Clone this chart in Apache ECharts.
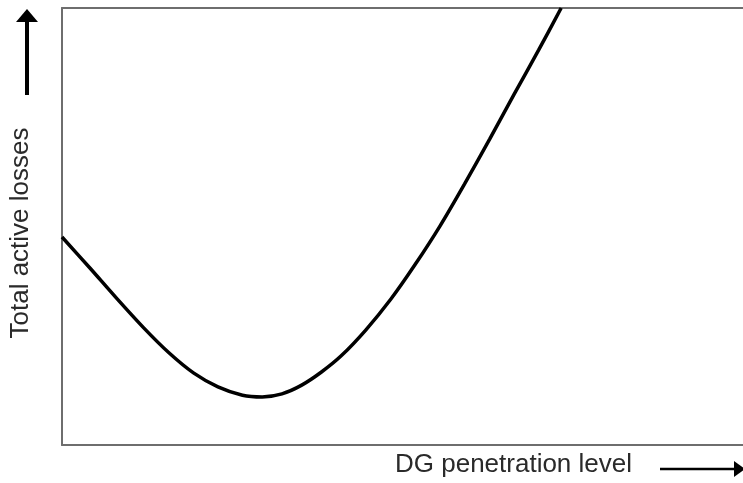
<!DOCTYPE html>
<html>
<head>
<meta charset="utf-8">
<script src="https://cdn.jsdelivr.net/npm/echarts@6/dist/echarts.min.js"></script>
<style>
html,body{margin:0;padding:0;background:#fff;}
#chart{width:743px;height:483px;}
</style>
</head>
<body>
<div id="chart"></div>
<script>
// DG penetration level (normalized 0-100)
const penetration = [0, 4.1, 8.0, 12.0, 15.7, 19.3, 22.9, 26.5, 29.4, 32.3, 35.2, 38.1, 41.0, 44.6, 48.3, 51.9, 55.5, 59.1, 62.8, 66.4, 70.0, 73.3];
// Total active losses (normalized 0-100)
const losses = [47.6, 40.5, 33.6, 26.8, 21.1, 16.5, 13.3, 11.4, 11.0, 11.7, 13.7, 16.7, 20.4, 26.3, 33.4, 41.4, 50.1, 59.7, 70.0, 80.3, 90.4, 100];
const xTitle = 'DG penetration level';
const yTitle = 'Total active losses';

const chart = echarts.init(document.getElementById('chart'));
const font = 'Liberation Sans, Arial, sans-serif';
const frame = {show: true, onZero: false, lineStyle: {color: '#6e6e6e', width: 2}};
chart.setOption({
  animation: false,
  grid: {left: 62, right: 0, top: 8, bottom: 38, show: false},
  xAxis: [
    {type: 'value', min: 0, max: 100, position: 'bottom', axisLine: frame, axisTick: {show: false}, axisLabel: {show: false}, splitLine: {show: false}},
    {type: 'value', min: 0, max: 100, position: 'top', axisLine: frame, axisTick: {show: false}, axisLabel: {show: false}, splitLine: {show: false}}
  ],
  yAxis: {type: 'value', min: 0, max: 100, position: 'left', axisLine: frame, axisTick: {show: false}, axisLabel: {show: false}, splitLine: {show: false}},
  series: [{
    type: 'line',
    xAxisIndex: 0,
    data: penetration.map((x, i) => [x, losses[i]]),
    smooth: 0.3,
    showSymbol: false,
    lineStyle: {color: '#000', width: 3.5},
    clip: true
  }],
  graphic: [
    {type: 'text', left: 395, top: 452, style: {text: xTitle, font: '26px ' + font, fill: '#2a2a2a'}},
    {type: 'line', shape: {x1: 660, y1: 469, x2: 738, y2: 469}, style: {stroke: '#000', lineWidth: 2.5}},
    {type: 'polygon', shape: {points: [[734, 461], [745, 469], [734, 477]]}, style: {fill: '#000'}},
    {type: 'text', x: 21, y: 233, rotation: Math.PI / 2, style: {text: yTitle, font: '26px ' + font, fill: '#2a2a2a', align: 'center', verticalAlign: 'middle'}},
    {type: 'line', shape: {x1: 27, y1: 95, x2: 27, y2: 18}, style: {stroke: '#000', lineWidth: 4}},
    {type: 'polygon', shape: {points: [[16, 22], [27, 9], [38, 22]]}, style: {fill: '#000'}}
  ]
});
</script>
</body>
</html>
